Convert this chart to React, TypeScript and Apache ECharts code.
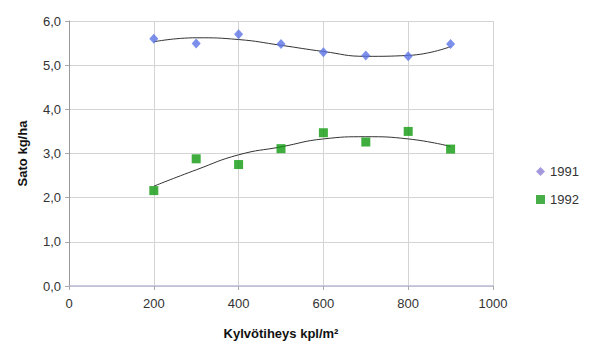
import React, { useEffect, useRef } from "react";
import * as echarts from "echarts";

const xValues = [200, 300, 400, 500, 600, 700, 800, 900];
const y1991 = [5.6, 5.49, 5.7, 5.48, 5.29, 5.22, 5.2, 5.48];
const y1992 = [2.16, 2.88, 2.75, 3.11, 3.47, 3.26, 3.5, 3.1];
// trend lines
const trendX = [200, 300, 400, 500, 600, 700, 800, 900];
const trend1991 = [5.53, 5.62, 5.58, 5.45, 5.31, 5.2, 5.22, 5.42];
const trend1992 = [2.26, 2.63, 2.97, 3.15, 3.33, 3.38, 3.33, 3.16];

const FONT = "'Liberation Sans', Arial, sans-serif";

export default function App() {
  const ref = useRef<HTMLDivElement>(null);
  useEffect(() => {
    document.body.style.margin = "0";
    const chart = echarts.init(ref.current!, null, { renderer: "svg" });
    const pairs = (xs: number[], ys: number[]) => xs.map((x, i) => [x, ys[i]]);
    chart.setOption({
      animation: false,
      textStyle: { fontFamily: FONT },
      grid: { left: 69, right: 98, top: 21, bottom: 53 },
      legend: {
        orient: "vertical",
        left: 531,
        top: 160,
        itemGap: 15,
        itemWidth: 9,
        itemHeight: 9,
        width: 60,
        textStyle: { fontFamily: FONT, fontSize: 13, color: "#333", width: 40, overflow: "none" },
        data: [
          { name: "1991", icon: "diamond", itemStyle: { color: "#8e7fd6" } },
          { name: "1992", icon: "rect", itemStyle: { color: "#1a9a1a" } },
        ],
      },
      xAxis: {
        type: "value",
        min: 0,
        max: 1000,
        interval: 200,
        name: "Kylvötiheys kpl/m²",
        nameLocation: "middle",
        nameGap: 41,
        nameTextStyle: { fontFamily: FONT, fontSize: 13, fontWeight: "bold", color: "#111" },
        axisLine: { show: true, onZero: false, lineStyle: { color: "#b8bcd8", width: 1.5 } },
        axisTick: { show: true, length: 4, lineStyle: { color: "#aaa" } },
        axisLabel: {
          fontFamily: FONT,
          fontSize: 13,
          color: "#333",
          margin: 11,
          formatter: (v: number) => String(v),
        },
        splitLine: { show: true, lineStyle: { color: "#d4d4d4" } },
      },
      yAxis: {
        type: "value",
        min: 0,
        max: 6,
        interval: 1,
        name: "Sato kg/ha",
        nameLocation: "middle",
        nameGap: 40,
        nameRotate: 90,
        nameTextStyle: { fontFamily: FONT, fontSize: 13, fontWeight: "bold", color: "#111" },
        axisLine: { show: true, lineStyle: { color: "#999" } },
        axisTick: { show: true, length: 4, lineStyle: { color: "#aaa" } },
        axisLabel: {
          fontFamily: FONT,
          fontSize: 13,
          color: "#333",
          margin: 8,
          formatter: (v: number) => v.toFixed(1).replace(".", ","),
        },
        splitLine: { show: true, lineStyle: { color: "#d4d4d4" } },
      },
      series: [
        {
          name: "trend1991",
          type: "line",
          data: pairs(trendX, trend1991),
          smooth: 0.5,
          showSymbol: false,
          symbol: "none",
          lineStyle: { color: "#333", width: 1 },
          silent: true,
          z: 1,
        },
        {
          name: "trend1992",
          type: "line",
          data: pairs(trendX, trend1992),
          smooth: 0.5,
          showSymbol: false,
          symbol: "none",
          lineStyle: { color: "#333", width: 1 },
          silent: true,
          z: 1,
        },
        {
          name: "1991",
          type: "scatter",
          data: pairs(xValues, y1991),
          symbol: "diamond",
          symbolSize: [9, 10],
          itemStyle: { color: "#5a73e6" },
          z: 3,
        },
        {
          name: "1992",
          type: "scatter",
          data: pairs(xValues, y1992),
          symbol: "rect",
          symbolSize: 9,
          itemStyle: { color: "#0f9a0f" },
          z: 3,
        },
      ],
    });
    return () => chart.dispose();
  }, []);
  return <div ref={ref} style={{ width: 591, height: 345 }} />;
}
